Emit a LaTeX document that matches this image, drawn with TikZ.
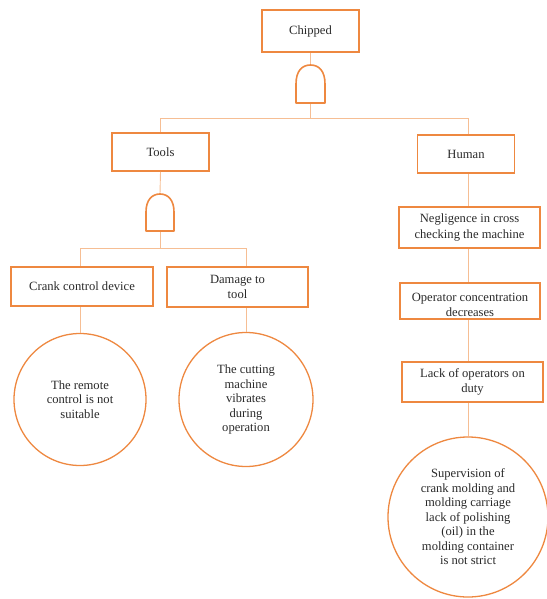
\documentclass[tikz,border=0pt]{standalone}
\usepackage{fontspec}
\setmainfont{Liberation Serif}
\definecolor{boxor}{HTML}{EE8840}
\definecolor{lineor}{HTML}{F6BE94}
\definecolor{txt}{HTML}{2A2A2A}
\begin{document}
\begin{tikzpicture}[x=1pt,y=-1pt,
  evbox/.style={draw=boxor,line width=1.6pt,fill=white,inner sep=0pt,align=center,text=txt,
    font=\fontsize{12.6}{15.5}\selectfont},
  basic/.style={circle,draw=boxor,line width=1.3pt,fill=white,inner sep=0pt,align=center,text=txt,
    font=\fontsize{12.6}{14.5}\selectfont},
  conn/.style={draw=lineor,line width=0.9pt},
  gatest/.style={draw=boxor,line width=1.6pt,fill=white,line join=round}]
\useasboundingbox (0,0) rectangle (546,599);

% nodes
\node[evbox,minimum width=97pt,minimum height=42pt] (chip) at (310.5,31) {Chipped};
\node[evbox,minimum width=97pt,minimum height=38pt] (tools) at (160.5,152) {Tools};
\node[evbox,minimum width=97pt,minimum height=38pt] (human) at (466,154) {Human};
\node[evbox,minimum width=142pt,minimum height=39pt] (crank) at (82,286.5) {Crank control device};
\node[evbox,minimum width=141pt,minimum height=40pt] (damage) at (237.5,287) {Damage to\\tool};
\node[evbox,minimum width=141pt,minimum height=41pt] (negl) at (469.5,227.5) {Negligence in cross\\checking the machine};
\node[evbox,minimum width=140pt,minimum height=36pt,text height=32pt] (oper) at (470,301) {Operator concentration\\decreases};
\node[evbox,minimum width=141pt,minimum height=40pt] (lack) at (472.5,382) {Lack of operators on\\duty};

\node[basic,minimum size=132pt] (c1) at (80,399.5) {The remote\\control is not\\suitable};
\node[basic,minimum size=134pt] (c2) at (246,399.5) {The cutting\\machine\\vibrates\\during\\operation};
\node[basic,minimum size=160pt] (c3) at (468,517) {Supervision of\\crank molding and\\molding carriage\\lack of polishing\\(oil) in the\\molding container\\is not strict};

% gates
\coordinate (g1top) at (310.5,65);
\coordinate (g1bot) at (310.5,103);
\coordinate (g2top) at (160,194);
\coordinate (g2bot) at (160,231);

% connectors
\draw[conn] (chip.south) -- (g1top);
\draw[conn] (g1bot) -- ++(0,15) -| (tools.north);
\draw[conn] (g1bot) -- ++(0,15) -| (c3.north |- human.north);
\draw[conn] (tools.south) -- (g2top);
\draw[conn] (g2bot) -- ++(0,17) -| (c1.north |- crank.north);
\draw[conn] (g2bot) -- ++(0,17) -| (c2.north |- damage.north);
\draw[conn] (c1.north) -- (c1.north |- crank.south);
\draw[conn] (c2.north) -- (c2.north |- damage.south);
\draw[conn] (c3.north |- human.south) -- (c3.north |- negl.north);
\draw[conn] (c3.north |- negl.south) -- (c3.north |- oper.north);
\draw[conn] (c3.north |- oper.south) -- (c3.north |- lack.north);
\draw[conn] (c3.north |- lack.south) -- (c3.north);

% AND gates
\draw[gatest] (296,103) -- (296,84) .. controls (296,71) and (302,65) .. (g1top)
  .. controls (319,65) and (325,71) .. (325,84) -- (325,103) -- cycle;
\draw[gatest] (146,231) -- (146,212) .. controls (146,200) and (152,194) .. (g2top)
  .. controls (168,194) and (174,200) .. (174,212) -- (174,231) -- cycle;
\end{tikzpicture}
\end{document}
